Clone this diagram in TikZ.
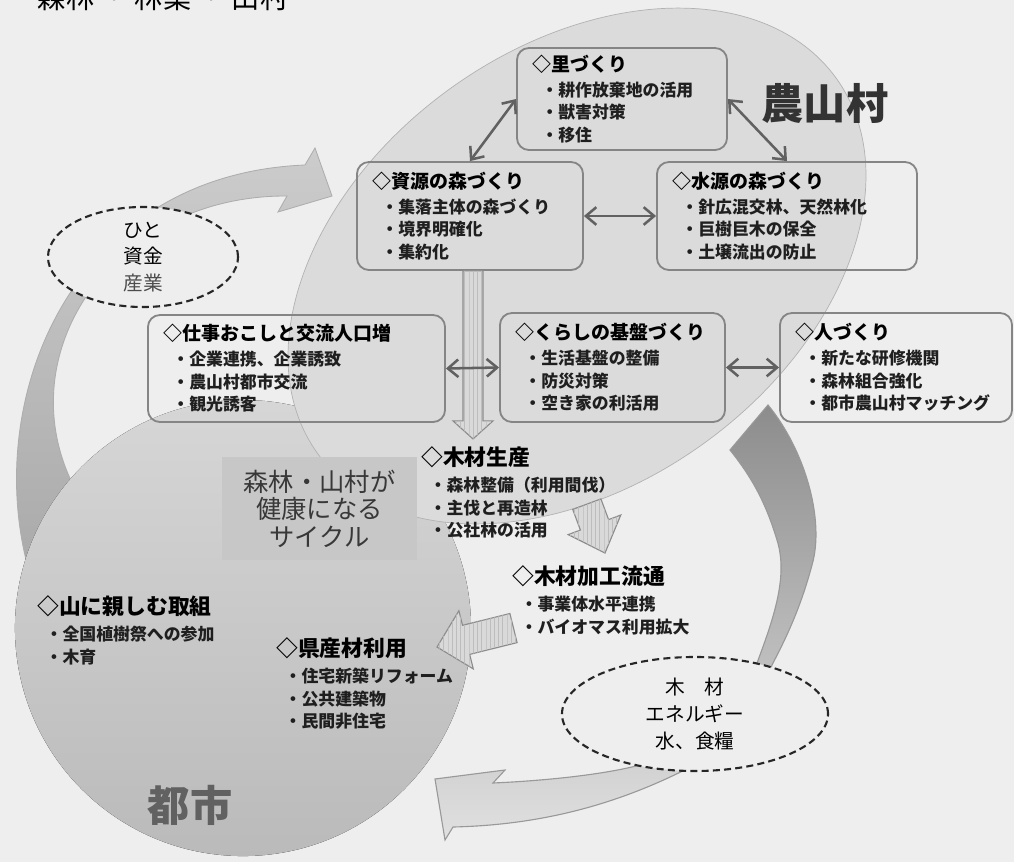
\documentclass[tikz,border=0pt]{standalone}
\usepackage{fontspec}
\setmainfont{Noto Sans CJK JP}
\usetikzlibrary{shapes.geometric,patterns,arrows.meta}

\definecolor{bg}{gray}{0.935}
\definecolor{village}{gray}{0.86}
\definecolor{citytop}{gray}{0.84}
\definecolor{citybot}{gray}{0.73}
\definecolor{cyclefill}{gray}{0.78}

\begin{document}
\begin{tikzpicture}[
    x=0.025cm,
    y=-0.025cm,
    >={Straight Barb[length=2.6mm,width=4.4mm]},
    box/.style={
        draw=black!48,
        line width=1.3pt,
        rounded corners=3mm,
        align=left,
        inner xsep=0.4cm,
        inner ysep=0pt,
        text=black!88,
        font=\bfseries\fontsize{12pt}{16pt}\selectfont
    },
    itemtext/.style={
        align=left,
        inner sep=0pt,
        anchor=north west,
        text=black!88,
        font=\bfseries\fontsize{12pt}{16pt}\selectfont
    },
    link/.style={
        <->,
        line width=1.8pt,
        draw=black!62
    },
    fatarrow/.style={
        draw=black!45,
        line width=0.8pt,
        fill=black!15,
        postaction={pattern=vertical lines, pattern color=black!26}
    },
    dashring/.style={
        ellipse,
        draw=black!85,
        line width=1.5pt,
        dash pattern=on 5pt off 3pt,
        fill=bg,
        inner sep=-3pt,
        align=center,
        font=\fontsize{14pt}{19pt}\selectfont
    },
    bigword/.style={
        font=\fontsize{30pt}{30pt}\selectfont\bfseries
    }
]

    \useasboundingbox (0,0) rectangle (1014,862);
    \clip (0,0) rectangle (1014,862);

    % 背景
    \fill[bg] (0,0) rectangle (1014,862);

    % 大きな循環矢印（左）
    \draw[top color=black!20, bottom color=black!34, draw=black!32, line width=0.6pt]
        (35,590) .. controls (-25,420) and (60,175) .. (305,165)
        -- (315,148) -- (332,196) -- (278,212) -- (287,196)
        .. controls (100,195) and (-12,380) .. (95,520) -- cycle;

    % 大きな循環矢印（右下）
    \draw[top color=black!45, bottom color=black!12, draw=black!40, line width=0.8pt]
        (768,405) .. controls (805,450) and (825,520) .. (812,565)
        .. controls (800,610) and (785,640) .. (772,665)
        .. controls (760,710) and (730,745) .. (700,762)
        .. controls (620,805) and (540,825) .. (453,827)
        -- (445,840) -- (435,779) -- (505,770) -- (493,783)
        .. controls (560,780) and (620,772) .. (650,762)
        .. controls (690,735) and (740,700) .. (757,663)
        .. controls (775,615) and (788,575) .. (777,540)
        .. controls (765,500) and (750,475) .. (730,450) -- cycle;

    % 都市と農山村
    \fill[top color=citytop, bottom color=citybot] (243,628) circle (5.7cm);
    \draw[fill=village, draw=black!30, line width=0.5pt, rotate around={36:(577,266)}]
        (577,266) ellipse (8.0cm and 5.45cm);

    \node[fill=cyclefill, minimum width=4.875cm, minimum height=2.575cm,
          align=center, text=black!78, font=\fontsize{18pt}{19.6pt}\selectfont]
        (cycle) at (319.5,508.5) {森林・山村が\\健康になる\\サイクル};

    % 点線の楕円
    \node[dashring, minimum width=4.75cm, minimum height=2.5cm] (people) at (143,257)
        {ひと\\資金\\{\color{black!70}産業}};
    \node[dashring, minimum width=6.65cm, minimum height=2.85cm] (goods) at (695,714)
        {木　材\\エネルギー\\水、食糧};

    % 見出し
    \node[anchor=base west, font=\fontsize{20pt}{20pt}\selectfont] (title) at (33,8)
        {森林 ・ 林業 ・ 山村};
    \node[bigword, text=black!80] (village) at (825,103) {農山村};
    \node[bigword, text=black!62] (city) at (190,805) {都市};

    % 農山村の取組
    \node[box, text width=4.45cm, minimum height=2.55cm] (sato) at (622,99)
        {{\fontsize{13.5pt}{16pt}\selectfont\color{black} ◇里づくり}\\[1.8pt]
         \hspace*{6pt}・耕作放棄地の活用\\\hspace*{6pt}・獣害対策\\\hspace*{6pt}・移住};
    \node[box, text width=4.85cm, minimum height=2.7cm] (shigen) at (470,216)
        {{\fontsize{13.5pt}{16pt}\selectfont\color{black} ◇資源の森づくり}\\[1.8pt]
         \hspace*{6pt}・集落主体の森づくり\\\hspace*{6pt}・境界明確化\\\hspace*{6pt}・集約化};
    \node[box, text width=5.7cm, minimum height=2.7cm] (suigen) at (787,216)
        {{\fontsize{13.5pt}{16pt}\selectfont\color{black} ◇水源の森づくり}\\[1.8pt]
         \hspace*{6pt}・針広混交林、天然林化\\\hspace*{6pt}・巨樹巨木の保全\\\hspace*{6pt}・土壌流出の防止};
    \node[box, text width=6.625cm, minimum height=2.675cm] (shigoto) at (296.5,368.5)
        {{\fontsize{13.5pt}{16pt}\selectfont\color{black} ◇仕事おこしと交流人口増}\\[1.8pt]
         \hspace*{6pt}・企業連携、企業誘致\\\hspace*{6pt}・農山村都市交流\\\hspace*{6pt}・観光誘客};
    \node[box, text width=4.825cm, minimum height=2.725cm] (kurashi) at (612.5,367.5)
        {{\fontsize{13.5pt}{16pt}\selectfont\color{black} ◇くらしの基盤づくり}\\[1.8pt]
         \hspace*{6pt}・生活基盤の整備\\\hspace*{6pt}・防災対策\\\hspace*{6pt}・空き家の利活用};
    \node[box, text width=5.0cm, minimum height=2.725cm] (hito) at (896,367.5)
        {{\fontsize{13.5pt}{16pt}\selectfont\color{black} ◇人づくり}\\[1.8pt]
         \hspace*{6pt}・新たな研修機関\\\hspace*{6pt}・森林組合強化\\\hspace*{6pt}・都市農山村マッチング};

    % 相互の矢印
    \draw[link] (shigen.north) -- (sato.west);
    \draw[link] (sato.east) -- (suigen.north);
    \draw[link] (shigen.east) -- (suigen.west);

    % 太い矢印
    \draw[fatarrow] ([xshift=-0.175cm]shigen.south) -- ++(0,150) -- ++(-10,0)
        -- ++(20,18) -- ++(20,-18) -- ++(-10,0) -- ++(0,-150) -- cycle;
    \draw[fatarrow] (572.7,509.4) -- (600.9,498.9) -- (608.6,519.6) -- (620.8,515)
        -- (605,553) -- (568.2,534.6) -- (580.4,530) -- cycle;
    \draw[fatarrow] (509.9,613.5) -- (462.5,625.3) -- (458.9,610.7) -- (437,647)
        -- (473.3,668.9) -- (469.7,654.4) -- (517.1,642.6) -- cycle;

    \draw[link] (shigoto.east) -- (kurashi.west);
    \draw[link] (kurashi.east) -- (hito.west);

    % 木材の流れと都市の取組
    \node[itemtext] (mokuzai) at (421,446)
        {{\fontsize{15.5pt}{16pt}\selectfont\color{black} ◇木材生産}\\[3pt]
         \hspace*{6pt}・森林整備（利用間伐）\\\hspace*{6pt}・主伐と再造林\\\hspace*{6pt}・公社林の活用};
    \node[itemtext] (kakou) at (512,565)
        {{\fontsize{15.5pt}{16pt}\selectfont\color{black} ◇木材加工流通}\\[3pt]
         \hspace*{6pt}・事業体水平連携\\\hspace*{6pt}・バイオマス利用拡大};
    \node[itemtext] (yama) at (37,595)
        {{\fontsize{15.5pt}{16pt}\selectfont\color{black} ◇山に親しむ取組}\\[3pt]
         \hspace*{6pt}・全国植樹祭への参加\\\hspace*{6pt}・木育};
    \node[itemtext] (kensan) at (276,637)
        {{\fontsize{15.5pt}{16pt}\selectfont\color{black} ◇県産材利用}\\[3pt]
         \hspace*{6pt}・住宅新築リフォーム\\\hspace*{6pt}・公共建築物\\\hspace*{6pt}・民間非住宅};

\end{tikzpicture}
\end{document}
